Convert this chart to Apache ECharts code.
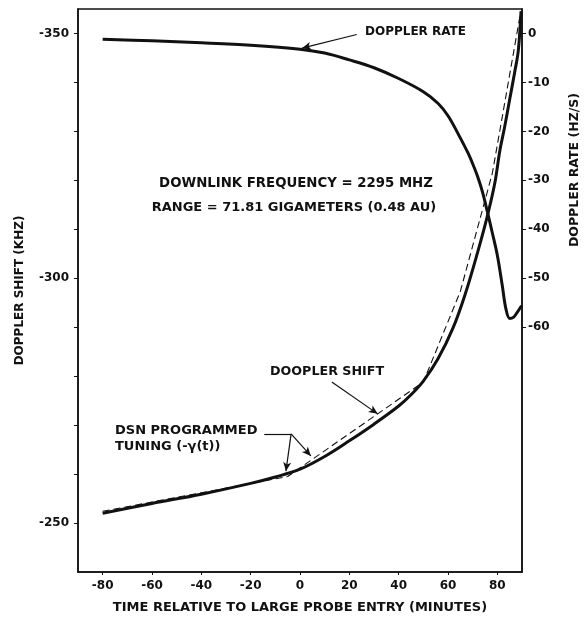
<!DOCTYPE html>
<html>
<head>
<meta charset="utf-8">
<script src="https://cdn.jsdelivr.net/npm/echarts@6/dist/echarts.min.js"></script>
<style>
  html, body { margin: 0; padding: 0; background: #fff; }
  #chart { width: 584px; height: 626px; }
</style>
</head>
<body>
<div id="chart"></div>
<script>
// Doppler shift of the downlink (kHz) versus time from large probe entry (min)
const shiftTime  = [-80, -60, -40, -20, -10, 0, 10, 20, 30, 40, 45, 50, 56, 62, 67, 72, 76, 79, 81, 83, 85, 87, 88.5, 89.6];
const shiftKHz   = [-252.0, -254.0, -255.9, -258.1, -259.4, -261.0, -263.6, -266.8, -270.2, -273.9, -276.2, -279.0, -283.6, -289.8, -296.8, -305.3, -312.8, -319.5, -326.0, -331.0, -336.5, -342.0, -346.5, -354.5];

// DSN programmed tuning, piecewise linear (kHz)
const tuneTime   = [-80, -5, 50, 65, 78, 89.5];
const tuneKHz    = [-252.4, -259.5, -278.8, -297.3, -321.5, -354.5];

// Doppler rate (Hz/s)
const rateTime   = [-80, -60, -40, -20, 0, 10, 20, 30, 40, 50, 56, 60, 64, 68, 70, 72, 74, 76, 78, 80, 82, 83.5, 85, 86.5, 88, 89.8];
const rateHzS    = [-1.2, -1.5, -1.9, -2.4, -3.2, -4.0, -5.4, -7.0, -9.2, -11.9, -14.3, -16.8, -20.4, -24.3, -26.6, -29.2, -32.4, -36.5, -40.8, -45.3, -51.5, -56.3, -58.2, -58.0, -57.0, -55.6];

// Tick and label values
const timeTicks      = [-80, -60, -40, -20, 0, 20, 40, 60, 80];
const shiftLabels    = [-350, -300, -250];
const shiftTicks     = [-350, -340, -330, -320, -310, -300, -290, -280, -270, -260, -250];
const rateLabels     = [0, -10, -20, -30, -40, -50, -60];

const pairs = (xs, ys) => xs.map((x, i) => [x, ys[i]]);

const FONT = 'DejaVu Sans';
const INK = '#111';

const arrowEnd = (from, to) => [
  { coord: from, symbol: 'none' },
  { coord: to, symbol: 'arrow', symbolSize: [6, 9] }
];
const plainSeg = (from, to) => [
  { coord: from, symbol: 'none' },
  { coord: to, symbol: 'none' }
];

const chart = echarts.init(document.getElementById('chart'), null, { renderer: 'canvas' });

chart.setOption({
  animation: false,
  backgroundColor: '#fff',
  grid: {
    left: 78, right: 62, top: 9, bottom: 54,
    show: true, borderColor: INK, borderWidth: 1.5, backgroundColor: 'transparent'
  },
  xAxis: {
    type: 'value', min: -90, max: 90,
    name: 'TIME RELATIVE TO LARGE PROBE ENTRY (MINUTES)',
    nameLocation: 'middle', nameGap: 29,
    nameTextStyle: { fontFamily: FONT, fontSize: 13, color: INK, fontWeight: 'bold' },
    axisLine: { show: true, onZero: false, lineStyle: { color: INK, width: 1.5 } },
    axisTick: { show: true, customValues: timeTicks, length: 3, lineStyle: { color: INK } },
    axisLabel: { customValues: timeTicks, margin: 8, fontFamily: FONT, fontSize: 12, color: INK, fontWeight: 'bold' },
    splitLine: { show: false }
  },
  yAxis: [
    {
      type: 'value', inverse: true, min: -355, max: -240, position: 'left',
      name: 'DOPPLER SHIFT (KHZ)',
      nameLocation: 'middle', nameRotate: 90, nameGap: 52,
      nameTextStyle: { fontFamily: FONT, fontSize: 12, color: INK, fontWeight: 'bold' },
      axisLine: { show: true, onZero: false, lineStyle: { color: INK, width: 1.5 } },
      axisTick: { show: true, customValues: shiftTicks, length: 4, lineStyle: { color: INK } },
      axisLabel: { customValues: shiftLabels, margin: 9, fontFamily: FONT, fontSize: 12, color: INK, fontWeight: 'bold' },
      splitLine: { show: false }
    },
    {
      type: 'value', min: -110, max: 5, position: 'right',
      axisLine: { show: true, onZero: false, lineStyle: { color: INK, width: 1.5 } },
      axisTick: { show: true, customValues: rateLabels, length: 4, lineStyle: { color: INK } },
      axisLabel: { customValues: rateLabels, margin: 6, fontFamily: FONT, fontSize: 12, color: INK, fontWeight: 'bold' },
      splitLine: { show: false }
    }
  ],
  series: [
    {
      name: 'DOPPLER SHIFT', type: 'line', yAxisIndex: 0,
      data: pairs(shiftTime, shiftKHz),
      smooth: 0.35, showSymbol: false, symbol: 'none',
      lineStyle: { color: INK, width: 3 },
      markLine: {
        silent: true, animation: false,
        label: { show: false },
        lineStyle: { color: INK, width: 1.2, type: 'solid' },
        data: [
          arrowEnd([12.9, -278.8], [31.5, -272.3]),
          plainSeg([-14.5, -268.2], [-3.6, -268.2]),
          arrowEnd([-3.6, -268.2], [-5.7, -260.6]),
          arrowEnd([-3.6, -268.2], [4.4, -263.7])
        ]
      }
    },
    {
      name: 'DSN PROGRAMMED TUNING', type: 'line', yAxisIndex: 0,
      data: pairs(tuneTime, tuneKHz),
      showSymbol: false, symbol: 'none',
      lineStyle: { color: INK, width: 1.1, type: [7, 4] }
    },
    {
      name: 'DOPPLER RATE', type: 'line', yAxisIndex: 1,
      data: pairs(rateTime, rateHzS),
      smooth: 0.35, showSymbol: false, symbol: 'none',
      lineStyle: { color: INK, width: 3 },
      markLine: {
        silent: true, animation: false,
        label: { show: false },
        lineStyle: { color: INK, width: 1.2, type: 'solid' },
        data: [ arrowEnd([23, -0.2], [0.8, -3.0]) ]
      }
    }
  ],
  graphic: [
    { type: 'text', left: 365, top: 26, style: { text: 'DOPPLER RATE', font: 'bold 12px "DejaVu Sans"', fill: INK } },
    { type: 'text', x: 296, y: 177, style: { text: 'DOWNLINK FREQUENCY = 2295 MHZ', font: 'bold 13.3px "DejaVu Sans"', fill: INK, align: 'center' } },
    { type: 'text', x: 294, y: 201, style: { text: 'RANGE = 71.81 GIGAMETERS (0.48 AU)', font: 'bold 13px "DejaVu Sans"', fill: INK, align: 'center' } },
    { type: 'text', left: 270, top: 365, style: { text: 'DOOPLER SHIFT', font: 'bold 12.7px "DejaVu Sans"', fill: INK } },
    { type: 'text', left: 115, top: 424, style: { text: 'DSN PROGRAMMED', font: 'bold 13px "DejaVu Sans"', fill: INK } },
    { type: 'text', left: 115, top: 440, style: { text: 'TUNING (-γ(t))', font: 'bold 13px "DejaVu Sans"', fill: INK } },
    { type: 'text', left: 568, top: 93, rotation: Math.PI / 2,
      style: { text: 'DOPPLER RATE (HZ/S)', font: 'bold 12.5px "DejaVu Sans"', fill: INK } }
  ]
});
</script>
</body>
</html>
